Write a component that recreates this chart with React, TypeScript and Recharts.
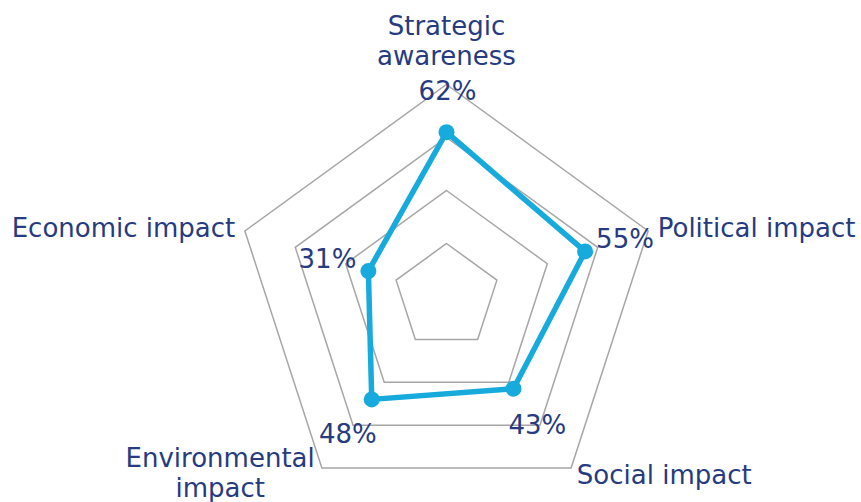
import { RadarChart, Radar, PolarGrid, PolarAngleAxis, PolarRadiusAxis } from "recharts";

const categories = [
  "Strategic awareness",
  "Political impact",
  "Social impact",
  "Environmental impact",
  "Economic impact",
];
const scores = [62, 55, 43, 48, 31];

const data = categories.map((c, i) => ({ category: c, score: scores[i] }));

const TEXT = "#263b80";
const LINE = "#17aadc";
const FONT = "'DejaVu Sans', Verdana, sans-serif";

// label placement around each vertex (anchor, dx, dy) - tweaked by eye
const catPlace = [
  { anchor: "middle", dx: 0, dy: -41.5, wrap: true },
  { anchor: "start", dx: 2, dy: 8, wrap: false },
  { anchor: "start", dx: 1, dy: 9.5, wrap: false },
  { anchor: "middle", dx: -97, dy: -7.5, wrap: true },
  { anchor: "end", dx: -2, dy: 8, wrap: false },
];
const valPlace = [
  { anchor: "middle", dx: 1, dy: -32 },
  { anchor: "start", dx: 11, dy: -3 },
  { anchor: "start", dx: -5, dy: 45 },
  { anchor: "end", dx: 5, dy: 44 },
  { anchor: "end", dx: -12, dy: -3 },
];

const CategoryTick = (props: any) => {
  const { x, y, index, payload } = props;
  const p = catPlace[index];
  const lines = p.wrap ? String(payload.value).split(" ") : [String(payload.value)];
  return (
    <text x={x + p.dx} y={y + p.dy} textAnchor={p.anchor} fill={TEXT} fontSize={26} fontFamily={FONT}>
      {lines.map((l, i) => (
        <tspan key={i} x={x + p.dx} dy={i === 0 ? 0 : 30}>
          {l}
        </tspan>
      ))}
    </text>
  );
};

const ScoreDot = (props: any) => {
  const { cx, cy, index } = props;
  const p = valPlace[index];
  return (
    <g key={`dot-${index}`}>
      <circle cx={cx} cy={cy} r={8} fill={LINE} />
      <text x={cx + p.dx} y={cy + p.dy} textAnchor={p.anchor} fill={TEXT} fontSize={26} fontFamily={FONT}>
        {scores[index]}%
      </text>
    </g>
  );
};

export default function App() {
  return (
    <div style={{ position: "absolute", left: 0, top: 0, width: 861, height: 502, background: "#fff" }}>
      <RadarChart
        width={861}
        height={502}
        data={data}
        cx={446.5}
        cy={296.5}
        outerRadius={212}
        margin={{ top: 0, right: 0, bottom: 0, left: 0 }}
      >
        <PolarGrid gridType="polygon" radialLines={false} stroke="#a6a6a6" strokeWidth={1.5} />
        <PolarAngleAxis dataKey="category" tick={CategoryTick} tickLine={false} axisLine={false} />
        <PolarRadiusAxis domain={[0, 80]} tickCount={5} tick={false} axisLine={false} />
        <Radar
          dataKey="score"
          stroke={LINE}
          strokeWidth={5.5}
          fill="none"
          fillOpacity={0}
          dot={ScoreDot}
          isAnimationActive={false}
        />
      </RadarChart>
    </div>
  );
}
